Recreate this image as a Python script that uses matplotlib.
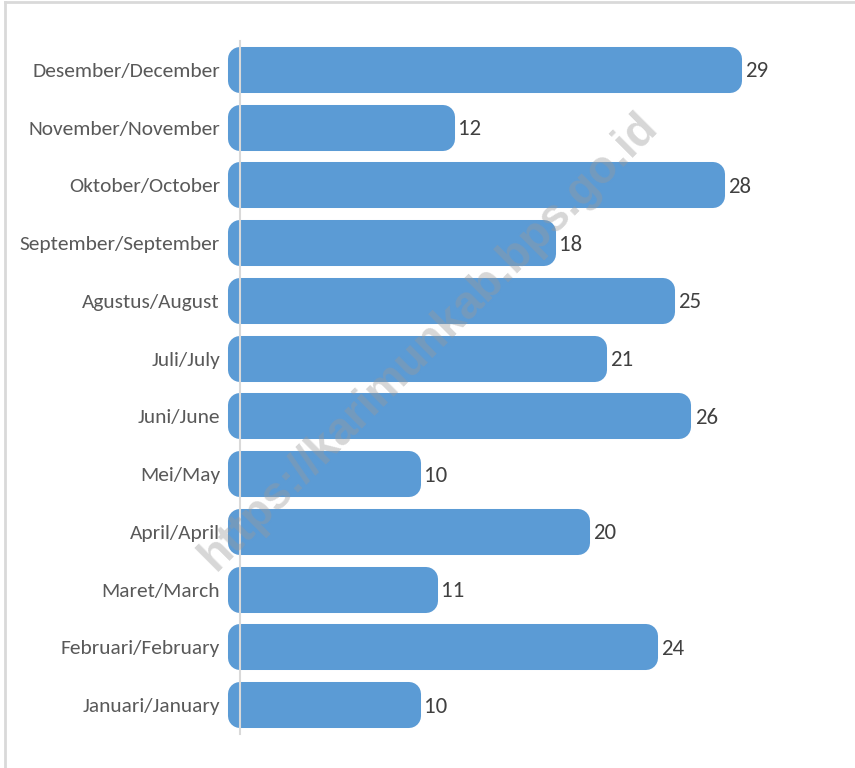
import matplotlib

matplotlib.use("Agg")
import matplotlib.pyplot as plt  # noqa: E402
from matplotlib.lines import Line2D  # noqa: E402

months = [
    "Januari/January",
    "Februari/February",
    "Maret/March",
    "April/April",
    "Mei/May",
    "Juni/June",
    "Juli/July",
    "Agustus/August",
    "September/September",
    "Oktober/October",
    "November/November",
    "Desember/December",
]
values = [10, 24, 11, 20, 10, 26, 21, 25, 18, 28, 12, 29]

BAR = "#5b9bd5"
DPI = 100

plt.rcParams["font.family"] = ["Carlito", "Liberation Sans Narrow", "Roboto Condensed", "DejaVu Sans"]

fig = plt.figure(figsize=(8.55, 7.68), dpi=DPI)
# axes: zero at x=240px, 16.9 px per unit; rows from y=41 to y=734
left, right = 240 / 855, 848 / 855
top, bottom = 1 - 41 / 768, 1 - 734 / 768
ax = fig.add_axes([left, bottom, right - left, top - bottom])
ax.set_xlim(0, (848 - 240) / 16.9)
ax.set_ylim(-0.5, len(months) - 0.5)

# bars with thick round-joined edge give the rounded ends
ax.barh(range(len(months)), values, height=0.38, color=BAR,
        edgecolor=BAR, linewidth=17.3, joinstyle="round", zorder=2,
        clip_on=False)

for i, v in enumerate(values):
    ax.annotate(str(v), (v, i), xytext=(11, -1), textcoords="offset points",
                ha="left", va="center", fontsize=16.5, color="#404040")

ax.set_yticks(range(len(months)))
ax.set_yticklabels(months, fontsize=15.4, color="#595959")
ax.tick_params(axis="y", length=0, pad=14.4)
ax.set_xticks([])
for s in ["top", "right", "bottom"]:
    ax.spines[s].set_visible(False)
ax.spines["left"].set_color("#d9d9d9")
ax.spines["left"].set_linewidth(1.5)
ax.spines["left"].set_zorder(3)

# watermark
fig.text(0.502, 0.555, "https://karimunkab.bps.go.id", rotation=45,
         ha="center", va="center", fontsize=33, fontweight="bold",
         family="Liberation Sans", color="#9a9a9a", alpha=0.4, zorder=5)

# outer frame (top and left edges)
fig.add_artist(Line2D([5 / 855, 5 / 855], [0, 1 - 2 / 768],
                      transform=fig.transFigure, color="#d9d9d9", lw=2))
fig.add_artist(Line2D([5 / 855, 1], [1 - 2 / 768, 1 - 2 / 768],
                      transform=fig.transFigure, color="#d9d9d9", lw=2))

fig.savefig("out.png", dpi=DPI, facecolor="white")
